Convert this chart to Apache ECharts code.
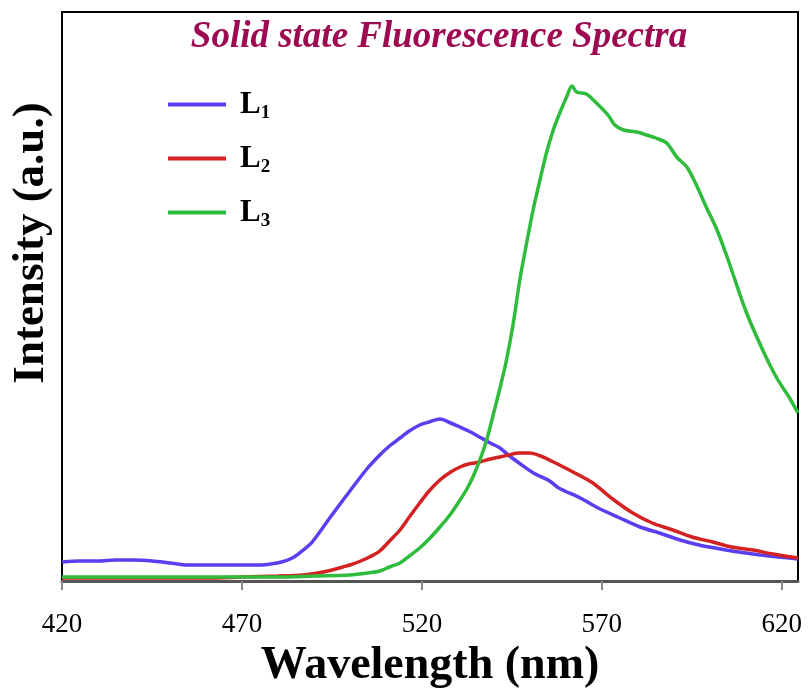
<!DOCTYPE html>
<html>
<head>
<meta charset="utf-8">
<script src="https://cdn.jsdelivr.net/npm/echarts@6/dist/echarts.min.js"></script>
<style>html,body{margin:0;padding:0;background:#fff;}#c{width:808px;height:690px;}</style>
</head>
<body>
<div id="c"></div>
<script>
// Wavelength tick labels
const xTicks = [420, 470, 520, 570, 620];
const seriesNames = ['L1', 'L2', 'L3'];

// L1 (blue): [wavelength nm, intensity a.u.]
const L1 = [
  [420,19],[425,20],[430,20],[435,21],[440,21],[445,20],[450,18],[455,16],[460,16],[465,16],[470,16],[475,16],[478,17],[481,19],[484,23],[486,28],[489,37],[491,46],[495,66],[500,90],[504.7,112],[508.3,126],[511,135],[513.9,143],[516.5,150],[519.4,156],[522,159],[525,162],[528,158],[530.6,154],[533,150],[536,144],[539,138],[541.7,133],[544,126],[547,118],[551,108],[555.5,100],[558,93],[564,83],[569,73],[575,63],[580.6,54],[586,48],[591.7,41],[597,36],[603,32],[608,29],[614,26],[619,24],[624.5,22]
];
// L2 (red)
const L2 = [
  [420,3],[430,3],[440,3],[450,3],[460,3],[470,4],[480,5],[487,6],[491,8],[495,11],[498,14],[500,16],[503,20],[506,25],[508.3,30],[511,40],[513.9,51],[516.5,64],[519.4,78],[522,90],[525,101],[528,109],[530.6,114],[533,117],[536,119],[539,122],[541.7,124],[544,126],[547,128],[550,128],[553,125],[556,120],[562,109],[567.5,98],[573,82],[578.6,68],[584,58],[589.7,51],[595,44],[600.8,39],[606,34],[612,31],[617.5,27],[624.5,23]
];
// L3 (green)
const L3 = [
  [420,4],[440,4],[460,4],[480,4],[490,5],[500,6],[505,8],[508.3,10],[511,14],[513.9,18],[516.5,25],[519.4,33],[522,42],[525,54],[528,67],[530.6,81],[532.5,92],[534.3,105],[536.1,121],[538,141],[539.8,166],[541.7,193],[543.5,221],[545.4,258],[547.2,301],[549.1,338],[550.9,371],[552.8,401],[554.6,428],[556.5,451],[558.3,468],[560.2,484],[561.7,495],[563,489],[565.7,487],[568.5,478],[571.7,466],[573.6,456],[576,451],[579.7,449],[582.5,446],[585,443],[588,438],[590.8,424],[593.6,414],[596,398],[599,374],[602,351],[605,322],[610,270],[614.7,231],[618.6,203],[622,184],[624.5,168]
];

const colors = ['#5a3ff2', '#d42121', '#2fbb3c'];
const serif = '"Liberation Serif", "DejaVu Serif", serif';

const chart = echarts.init(document.getElementById('c'), null, {renderer: 'canvas'});
chart.setOption({
  animation: false,
  backgroundColor: '#fff',
  color: colors,
  title: {
    text: 'Solid state Fluorescence Spectra',
    left: 434, top: 14, textAlign: 'center',
    textStyle: {fontFamily: serif, fontStyle: 'italic', fontWeight: 'bold', fontSize: 37, color: '#9e0a52'}
  },
  legend: {
    left: 163, top: 84, orient: 'vertical',
    itemWidth: 58, itemHeight: 10, itemGap: 20,
    icon: 'path://M0,3L58,3L58,7L0,7Z',
    data: seriesNames,
    formatter: function (n) { return '{b|' + n.charAt(0) + '}{s|' + n.slice(1) + '}'; },
    textStyle: {
      fontFamily: serif, color: '#000',
      rich: {
        b: {fontFamily: serif, fontWeight: 'bold', fontSize: 31, color: '#000', padding: [0,0,0,9]},
        s: {fontFamily: serif, fontWeight: 'bold', fontSize: 19, color: '#000', padding: [18,0,0,0]}
      }
    }
  },
  grid: {left: 62, right: 10, top: 12, bottom: 109, outerBoundsMode: 'none', containLabel: false, show: true, borderColor: '#000', borderWidth: 2, backgroundColor: 'transparent'},
  xAxis: {
    type: 'value', min: 420, max: 624.5, interval: 50,
    name: 'Wavelength (nm)', nameLocation: 'middle', nameGap: 54,
    nameTextStyle: {fontFamily: serif, fontWeight: 'bold', fontSize: 46, color: '#000'},
    axisLine: {show: true, lineStyle: {color: '#555', width: 3}},
    axisTick: {show: true, length: 9, lineStyle: {color: '#888', width: 2}, customValues: xTicks},
    axisLabel: {show: true, margin: 30, fontFamily: serif, fontSize: 27, color: '#000', customValues: xTicks},
    splitLine: {show: false}
  },
  yAxis: {
    type: 'value', min: 0, max: 569,
    axisLine: {show: false}, axisTick: {show: false}, axisLabel: {show: false}, splitLine: {show: false}
  },
  graphic: [{
    type: 'text', x: 31, y: 243, rotation: Math.PI / 2,
    style: {text: 'Intensity (a.u.)', fontFamily: serif, fontWeight: 'bold', fontSize: 45, fill: '#000', align: 'center', verticalAlign: 'middle'}
  }],
  series: [
    {name: 'L1', type: 'line', data: L1, showSymbol: false, smooth: 0.3, lineStyle: {width: 3.5}},
    {name: 'L2', type: 'line', data: L2, showSymbol: false, smooth: 0.3, lineStyle: {width: 3.5}},
    {name: 'L3', type: 'line', data: L3, showSymbol: false, smooth: 0.3, lineStyle: {width: 3.5}}
  ]
});
</script>
</body>
</html>
